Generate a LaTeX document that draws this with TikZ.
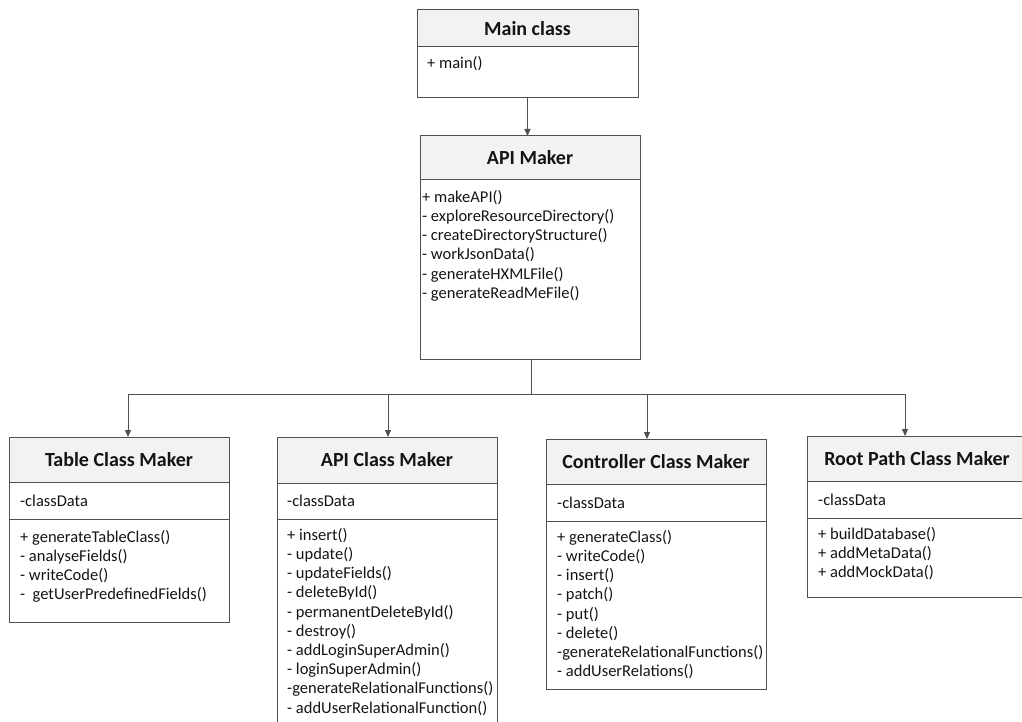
\documentclass[tikz,border=0pt]{standalone}
\usepackage{fontspec}
\setmainfont{Carlito}
\usetikzlibrary{positioning,arrows.meta}
\definecolor{linegray}{RGB}{80,80,80}
\definecolor{hdrfill}{RGB}{242,242,242}
\definecolor{ink}{RGB}{20,20,20}

\tikzset{
  >={Triangle[width=6pt,length=7pt]},
  hdr/.style={draw=linegray, fill=hdrfill, line width=1pt, minimum width=220pt,
    inner sep=0pt, outer sep=0pt, text=ink, font=\bfseries\fontsize{20}{24}\selectfont},
  cmp/.style={draw=linegray, line width=1pt, minimum width=220pt, inner sep=0pt, outer sep=0pt},
  attr/.style={anchor=west, inner sep=0pt, text=ink, font=\fontsize{16.5}{19.2}\selectfont},
  meth/.style={anchor=north west, align=left, inner sep=0pt, text=ink, font=\fontsize{16.5}{19.2}\selectfont},
  link/.style={->, draw=linegray, line width=1pt}
}

\begin{document}
\begin{tikzpicture}[x=1pt,y=-1pt]
\useasboundingbox (0,0) rectangle (1022,722);

% main class
\node[hdr, minimum width=221pt, minimum height=37pt] (mainH) at (527.5,28.5) {Main class};
\node[cmp, minimum width=221pt, minimum height=51pt, below=0pt of mainH] (mainM) {};
\node[meth] (mainMt) at ([xshift=10pt,yshift=-9pt]mainM.north west) {+ main()};

% api maker
\node[hdr, minimum height=44pt] (mkH) at (530,158) {API Maker};
\node[cmp, minimum height=179pt, below=0pt of mkH] (mkM) {};
\node[meth] (mkMt) at ([xshift=2pt,yshift=-10pt]mkM.north west) {+ makeAPI()\\
- exploreResourceDirectory()\\
- createDirectoryStructure()\\
- workJsonData()\\
- generateHXMLFile()\\
- generateReadMeFile()};

% table class maker
\node[hdr, minimum height=45pt] (tblH) at (119,459.5) {Table Class Maker};
\node[cmp, minimum height=37pt, below=0pt of tblH] (tblA) {};
\node[cmp, minimum height=103pt, below=0pt of tblA] (tblM) {};
\node[attr] (tblAt) at ([xshift=11pt]tblA.west) {-classData};
\node[meth] (tblMt) at ([xshift=11pt,yshift=-11pt]tblM.north west) {+ generateTableClass()\\
- analyseFields()\\
- writeCode()\\
-\ \ getUserPredefinedFields()};

% api class maker
\node[hdr, minimum height=46pt] (apcH) at (387,460) {API Class Maker};
\node[cmp, minimum height=36pt, below=0pt of apcH] (apcA) {};
\node[cmp, minimum height=216pt, below=0pt of apcA] (apcM) {};
\node[attr] (apcAt) at ([xshift=10pt]apcA.west) {-classData};
\node[meth] (apcMt) at ([xshift=10pt,yshift=-9pt]apcM.north west) {+ insert()\\
- update()\\
- updateFields()\\
- deleteById()\\
- permanentDeleteById()\\
- destroy()\\
- addLoginSuperAdmin()\\
- loginSuperAdmin()\\
-generateRelationalFunctions()\\
- addUserRelationalFunction()};

% controller class maker
\node[hdr, minimum height=45pt] (ctlH) at (656,461.5) {Controller Class Maker};
\node[cmp, minimum height=37pt, below=0pt of ctlH] (ctlA) {};
\node[cmp, minimum height=168pt, below=0pt of ctlA] (ctlM) {};
\node[attr] (ctlAt) at ([xshift=11pt]ctlA.west) {-classData};
\node[meth] (ctlMt) at ([xshift=11pt,yshift=-9pt]ctlM.north west) {+ generateClass()\\
- writeCode()\\
- insert()\\
- patch()\\
- put()\\
- delete()\\
-generateRelationalFunctions()\\
- addUserRelations()};

% root path class maker
\node[hdr, minimum height=45pt] (rootH) at (917,458.5) {Root Path Class Maker};
\node[cmp, minimum height=37pt, below=0pt of rootH] (rootA) {};
\node[cmp, minimum height=79pt, below=0pt of rootA] (rootM) {};
\node[attr] (rootAt) at ([xshift=11pt]rootA.west) {-classData};
\node[meth] (rootMt) at ([xshift=11pt,yshift=-9pt]rootM.north west) {+ buildDatabase()\\
+ addMetaData()\\
+ addMockData()};

% links
\draw[link] (mainM.south) -- (mainM.south |- mkH.north);

\coordinate (split) at (531,394);
\coordinate (d1) at (128,394);
\coordinate (d2) at (388,394);
\coordinate (d3) at (647,394);
\coordinate (d4) at (905,394);
\draw[draw=linegray, line width=1pt] (mkM.south -| split) -- (split);
\draw[draw=linegray, line width=1pt] (d1) -- (d4);
\draw[link] (d1) -- (d1 |- tblH.north);
\draw[link] (d2) -- (d2 |- apcH.north);
\draw[link] (d3) -- (d3 |- ctlH.north);
\draw[link] (d4) -- (d4 |- rootH.north);
\end{tikzpicture}
\end{document}
